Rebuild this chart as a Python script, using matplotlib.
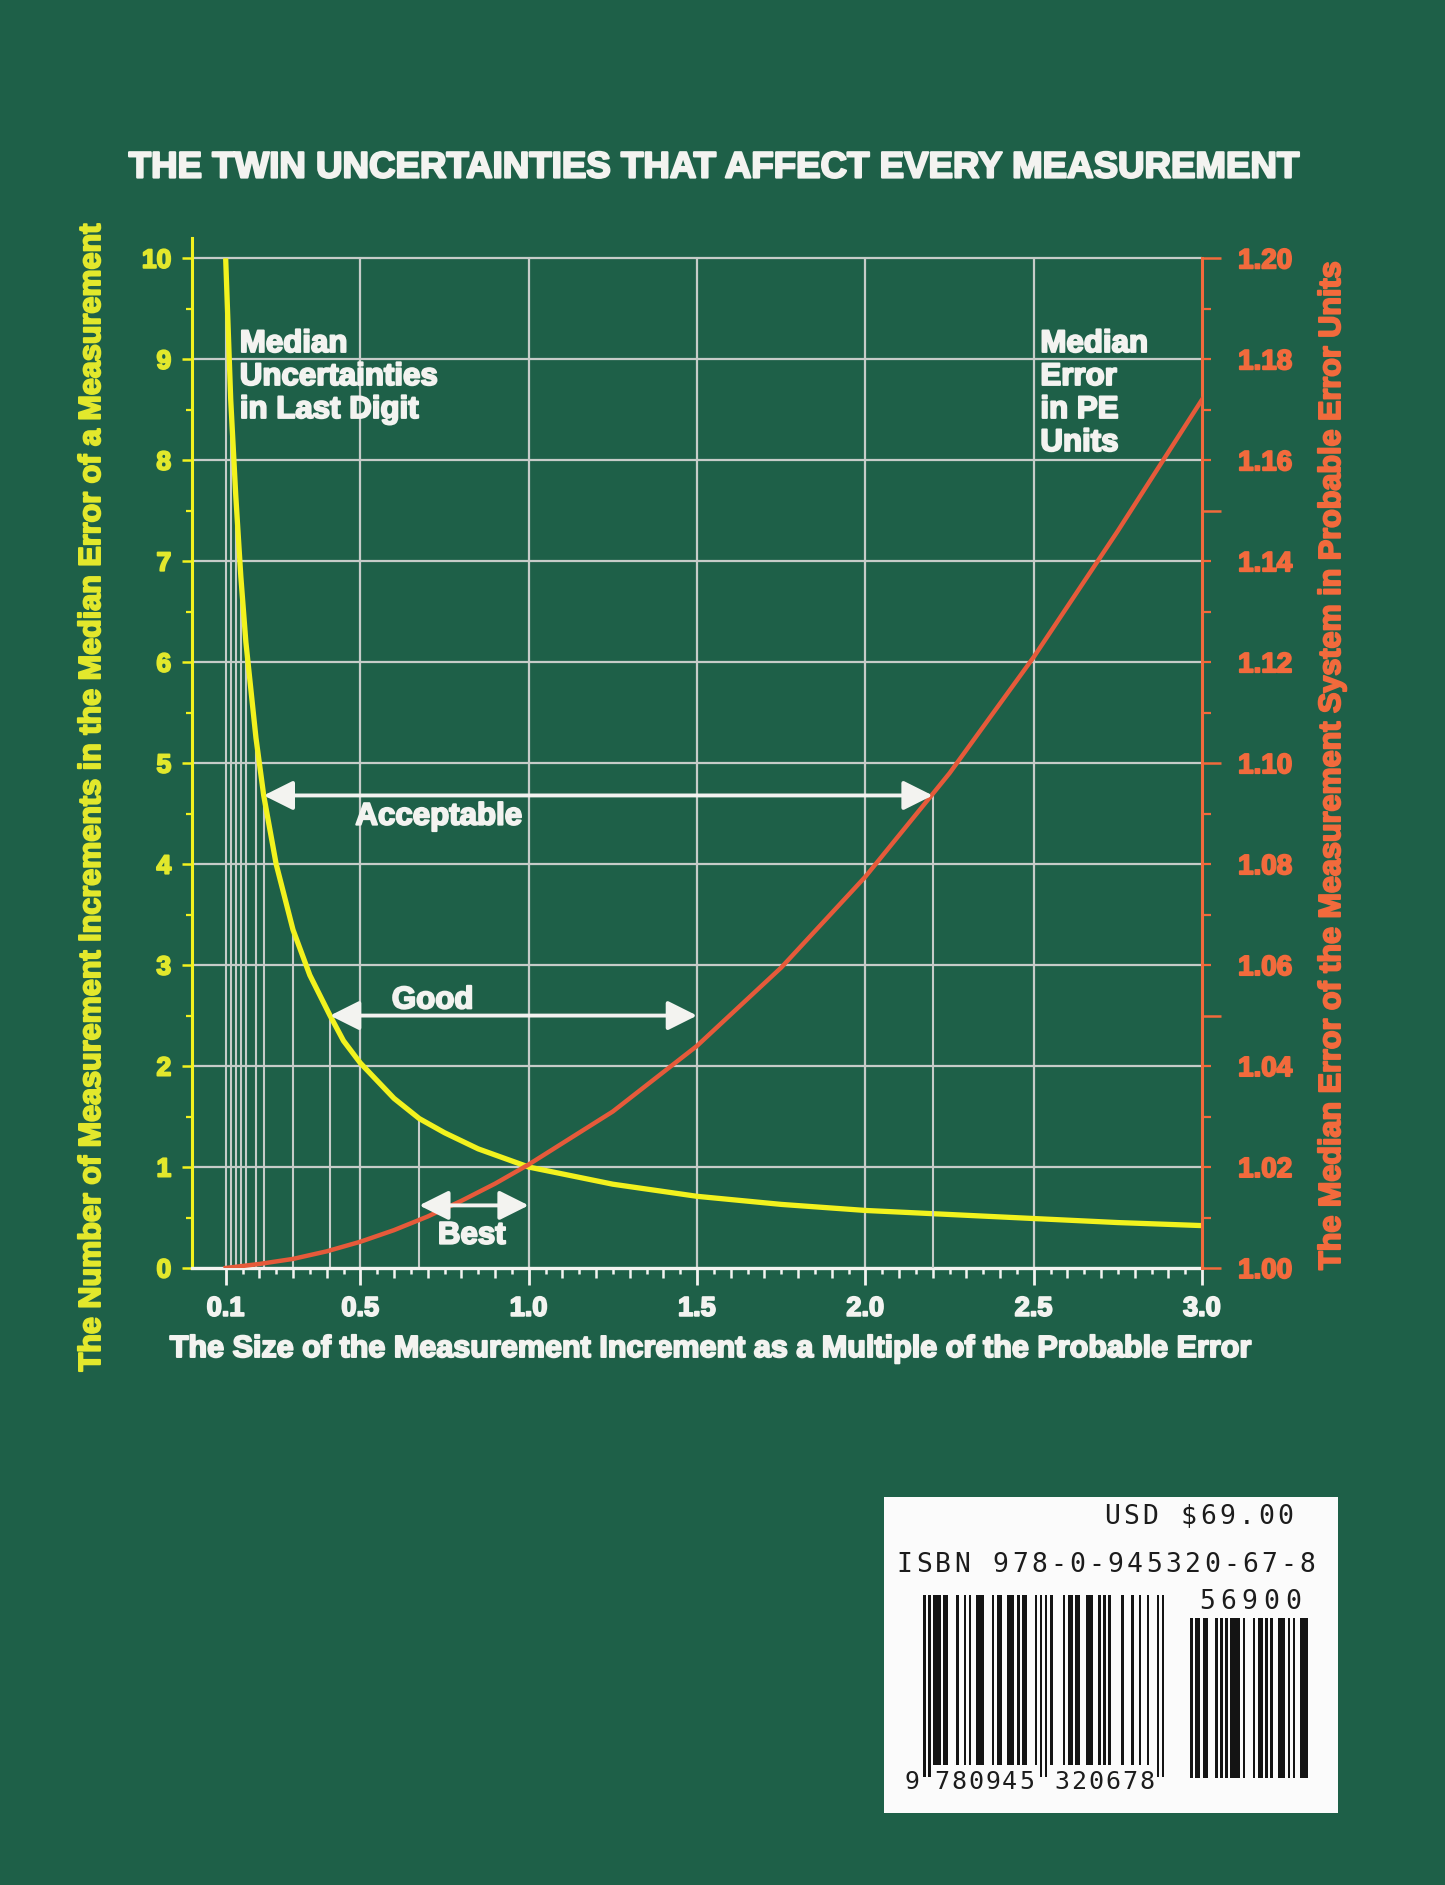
import numpy as np
import matplotlib
matplotlib.use("Agg")
import matplotlib.pyplot as plt
import matplotlib.patheffects as pe
from matplotlib.ticker import MultipleLocator, FixedLocator, FuncFormatter
from matplotlib.patches import Rectangle

# ---------------- data ----------------
yellow_x = [0.1, 0.115, 0.13, 0.145, 0.16, 0.19, 0.213, 0.25, 0.3, 0.35, 0.41,
            0.45, 0.5, 0.6, 0.675, 0.75, 0.85, 1.0, 1.25, 1.5, 1.75, 2.0,
            2.25, 2.5, 2.75, 3.0]
yellow_y = [10.0, 8.6, 7.65, 6.85, 6.2, 5.25, 4.68, 4.0, 3.35, 2.9, 2.5,
            2.25, 2.03, 1.68, 1.48, 1.34, 1.18, 1.0, 0.83, 0.71, 0.63, 0.57,
            0.53, 0.49, 0.45, 0.42]

red_x = [0.1, 0.2, 0.3, 0.4, 0.5, 0.6, 0.7, 0.8, 0.9, 1.0, 1.25, 1.5, 1.75,
         2.0, 2.25, 2.5, 2.75, 3.0]
red_y = [1.000, 1.0008, 1.0018, 1.0033, 1.0052, 1.0075, 1.0102, 1.0133, 1.0167,
         1.0205, 1.031, 1.044, 1.0595, 1.0775, 1.098, 1.121, 1.146, 1.172]

x_tick_vals = [0.1, 0.5, 1.0, 1.5, 2.0, 2.5, 3.0]
x_tick_labels = ["0.1", "0.5", "1.0", "1.5", "2.0", "2.5", "3.0"]
left_ticks = list(range(0, 11))
right_major = [1.00, 1.05, 1.10, 1.15, 1.20]

drop_x = [0.1, 0.115, 0.13, 0.145, 0.16, 0.19, 0.213, 0.3, 0.41, 0.675]
zone_names = ["Acceptable", "Good", "Best"]
zone_lo = [0.213, 0.41, 0.675]
zone_hi = [2.2, 1.5, 1.0]
zone_arrow_y = [4.68, 2.5, 0.62]
zone_label_xy = [(0.733, 4.47), (0.715, 2.65), (0.831, 0.32)]

title = "THE TWIN UNCERTAINTIES THAT AFFECT EVERY MEASUREMENT"
xlabel = "The Size of the Measurement Increment as a Multiple of the Probable Error"
ylabel_left = "The Number of Measurement Increments in the Median Error of a Measurement"
ylabel_right = "The Median Error of the Measurement System in Probable Error Units"

price_text = "USD $69.00"
isbn_text = "ISBN 978-0-945320-67-8"
isbn_digits = "9780945320678"
addon_digits = "56900"

# ---------------- style ----------------
BG = "#1e6048"
WHITE = "#f3f3f0"
GRID = "#c6ccc8"
YEL = "#f2f21e"
YEL_TXT = "#e2e82c"
RED = "#e65a3a"
ORANGE = "#f26a3c"

plt.rcParams["font.family"] = ["Liberation Sans", "DejaVu Sans"]
plt.rcParams["font.weight"] = "bold"


def heavy(color, w=1.4):
    return [pe.withStroke(linewidth=w, foreground=color)]


W, H = 1445, 1885
fig = plt.figure(figsize=(W / 100, H / 100), dpi=100, facecolor=BG)


def px_rect(x0, y0, x1, y1):
    return [x0 / W, 1 - y1 / H, (x1 - x0) / W, (y1 - y0) / H]


ax = fig.add_axes(px_rect(192, 228, 1202, 1268))
ax.set_facecolor("none")
ax.set_xlim(0, 3.0)
ax.set_ylim(0, 10.3)
ax2 = ax.twinx()
ax2.set_ylim(1.0, 1.0 + 0.02 * 10.3)

# spines
for s in ["top", "right"]:
    ax.spines[s].set_visible(False)
ax.spines["left"].set_color(YEL)
ax.spines["left"].set_linewidth(2.2)
ax.spines["left"].set_bounds(0, 10.2)
ax.spines["bottom"].set_color(WHITE)
ax.spines["bottom"].set_linewidth(2.4)
for s in ["top", "left", "bottom"]:
    ax2.spines[s].set_visible(False)
ax2.spines["right"].set_color(ORANGE)
ax2.spines["right"].set_linewidth(2.2)
ax2.spines["right"].set_bounds(1.0, 1.2)

# x ticks
ax.set_xticks(x_tick_vals, x_tick_labels)
ax.tick_params(axis="x", which="major", length=12, width=2, color=WHITE,
               labelcolor=WHITE, labelsize=19.5, pad=8)
tick_05 = np.round(np.arange(0.15, 3.0, 0.1), 2)
ax.xaxis.set_minor_locator(FixedLocator(tick_05))
ax.tick_params(axis="x", which="minor", length=4.5, width=1.8, color=WHITE)
sec = ax.secondary_xaxis("bottom")
tick_10 = [v for v in np.round(np.arange(0.2, 3.0, 0.1), 2) if round(v * 10) % 5 != 0]
sec.set_xticks(tick_10)
sec.set_xticklabels([])
sec.tick_params(axis="x", length=7.5, width=1.8, color=WHITE)
sec.spines["bottom"].set_visible(False)

# left ticks
ax.set_yticks(left_ticks)
ax.yaxis.set_minor_locator(MultipleLocator(0.5))
ax.tick_params(axis="y", which="major", length=7, width=1.8, color=YEL,
               labelcolor=YEL_TXT, labelsize=19, pad=8)
ax.tick_params(axis="y", which="minor", length=4.5, width=1.6, color=YEL)

# right ticks
fmt = FuncFormatter(lambda v, p: f"{v:.2f}" if round(v * 100) % 2 == 0 else "")
ax2.yaxis.set_major_locator(FixedLocator(right_major))
ax2.yaxis.set_minor_locator(MultipleLocator(0.01))
ax2.yaxis.set_major_formatter(fmt)
ax2.yaxis.set_minor_formatter(fmt)
ax2.tick_params(axis="y", which="major", length=14, width=1.8, color=ORANGE,
                labelcolor=ORANGE, labelsize=20, pad=12)
ax2.tick_params(axis="y", which="minor", length=6.5, width=1.6, color=ORANGE,
                labelcolor=ORANGE, labelsize=20, pad=19.5)

for lbl in ax.get_xticklabels():
    lbl.set_path_effects(heavy(WHITE))
for lbl in ax.get_yticklabels():
    lbl.set_path_effects(heavy(YEL_TXT))
for lbl in ax2.get_yticklabels() + ax2.get_yticklabels(minor=True):
    lbl.set_fontweight("bold")
    lbl.set_path_effects(heavy(ORANGE))

# grid
ax.hlines(range(1, 11), 0, 3.0, color=GRID, lw=1.6, zorder=1)
ax.vlines([0.5, 1.0, 1.5, 2.0, 2.5], 0, 10, color=GRID, lw=1.6, zorder=1)
ax.vlines(drop_x, 0, np.interp(drop_x, yellow_x, yellow_y), color=GRID, lw=1.5, zorder=1)
ax2.vlines([zone_hi[0]], 1.0, np.interp(zone_hi[0], red_x, red_y), color=GRID, lw=1.5, zorder=1)

# curves
ax.plot(yellow_x, yellow_y, color=YEL, lw=3.8, zorder=5, solid_joinstyle="round",
        solid_capstyle="butt")
ax2.plot(red_x, red_y, color=RED, lw=3.2, zorder=4, solid_joinstyle="round")

# zone arrows + labels (drawn on top axes, in left-axis coordinates)
for name, lo, hi, ay, (tx, ty) in zip(zone_names, zone_lo, zone_hi, zone_arrow_y, zone_label_xy):
    ax2.annotate("", xy=(hi, ay), xytext=(lo, ay), xycoords=ax.transData,
                 textcoords=ax.transData,
                 arrowprops=dict(arrowstyle="<|-|>,head_length=0.9,head_width=0.45",
                                 color=WHITE, lw=2.8, mutation_scale=20,
                                 shrinkA=0, shrinkB=0), zorder=6)
    ax2.text(tx, ty, name, transform=ax.transData, ha="center", va="center",
             color=WHITE, fontsize=22.5, fontweight="bold", zorder=7,
             path_effects=heavy(WHITE))

ax2.text(0.142, 9.30, "Median\nUncertainties\nin Last Digit", transform=ax.transData,
         ha="left", va="top", color=WHITE, fontsize=22.5, fontweight="bold",
         linespacing=1.13, zorder=7, path_effects=heavy(WHITE))
ax2.text(2.52, 9.30, "Median\nError\nin PE\nUnits", transform=ax.transData,
         ha="left", va="top", color=WHITE, fontsize=22.5, fontweight="bold",
         linespacing=1.13, zorder=7, path_effects=heavy(WHITE))

# titles / labels
fig.text(714 / W, 1 - 168 / H, title, ha="center", va="center", color=WHITE,
         fontsize=26.4, fontweight="bold", path_effects=heavy(WHITE, 1.6))
fig.text(710 / W, 1 - 1349 / H, xlabel, ha="center", va="center", color=WHITE,
         fontsize=22, fontweight="bold", path_effects=heavy(WHITE))
fig.text(92 / W, 1 - 798 / H, ylabel_left, ha="center", va="center", color=YEL_TXT,
         fontsize=22, fontweight="bold", rotation=90, path_effects=heavy(YEL_TXT))
fig.text(1332 / W, 1 - 766 / H, ylabel_right, ha="center", va="center", color=ORANGE,
         fontsize=22, fontweight="bold", rotation=90, path_effects=heavy(ORANGE))

# ---------------- barcode box ----------------
bx0, by0, bx1, by1 = 884, 1497, 1338, 1813
axb = fig.add_axes(px_rect(bx0, by0, bx1, by1))
axb.set_xlim(bx0, bx1)
axb.set_ylim(by1, by0)
axb.set_facecolor("#fbfbfb")
axb.set_xticks([])
axb.set_yticks([])
for s in axb.spines.values():
    s.set_visible(False)

L = {"0": "0001101", "1": "0011001", "2": "0010011", "3": "0111101", "4": "0100011",
     "5": "0110001", "6": "0101111", "7": "0111011", "8": "0110111", "9": "0001011"}
G = {"0": "0100111", "1": "0110011", "2": "0011011", "3": "0100001", "4": "0011101",
     "5": "0111001", "6": "0000101", "7": "0010001", "8": "0001001", "9": "0010111"}
R = {"0": "1110010", "1": "1100110", "2": "1101100", "3": "1000010", "4": "1011100",
     "5": "1001110", "6": "1010000", "7": "1000100", "8": "1001000", "9": "1110100"}
PAR13 = {"0": "LLLLLL", "1": "LLGLGG", "2": "LLGGLG", "3": "LLGGGL", "4": "LGLLGG",
         "5": "LGGLLG", "6": "LGGGLL", "7": "LGLGLL", "8": "LGLGGL", "9": "LGGLGL"}
PAR5 = {"0": "GGLLL", "1": "GLGLL", "2": "GLLGL", "3": "GLLLG", "4": "LGGLL",
        "5": "LLGGL", "6": "LLLGG", "7": "LGLGL", "8": "LGLLG", "9": "LLGLG"}


def ean13(code):
    bits = "101"
    for d, p in zip(code[1:7], PAR13[code[0]]):
        bits += (L if p == "L" else G)[d]
    bits += "01010"
    for d in code[7:]:
        bits += R[d]
    bits += "101"
    return bits


def ean5(code):
    ds = [int(c) for c in code]
    chk = str((3 * (ds[0] + ds[2] + ds[4]) + 9 * (ds[1] + ds[3])) % 10)
    bits = "01011"
    for i, (d, p) in enumerate(zip(code, PAR5[chk])):
        bits += (L if p == "L" else G)[d]
        if i < 4:
            bits += "01"
    return bits


def draw_bits(bits, x0, mw, top, bot, guard_bot=None, guards=()):
    i = 0
    n = len(bits)
    while i < n:
        if bits[i] == "1":
            j = i
            while j < n and bits[j] == "1":
                j += 1
            b = bot
            if guard_bot is not None and any(g0 <= i < g1 for g0, g1 in guards):
                b = guard_bot
            axb.add_patch(Rectangle((x0 + i * mw, top), (j - i) * mw, b - top,
                                    facecolor="#141414", edgecolor="none"))
            i = j
        else:
            i += 1


mw = 2.54
draw_bits(ean13(isbn_digits), 923, mw, 1595, 1765, guard_bot=1777,
          guards=[(0, 3), (45, 50), (92, 95)])
draw_bits(ean5(addon_digits), 1187.5, 2.5, 1618, 1778)


def spaced(text, x_start, pitch, y, size):
    for i, ch in enumerate(text):
        if ch != " ":
            axb.text(x_start + (i + 0.5) * pitch, y, ch, ha="center", va="center",
                     fontsize=size, family="DejaVu Sans Mono", fontweight="normal",
                     color="#1c1c1c")


spaced(price_text, 1102, 19.3, 1517, 19)
spaced(isbn_text, 895, 19.2, 1565, 19)
spaced(addon_digits, 1196, 21.5, 1602, 19)
spaced(isbn_digits[0], 903, 17, 1782, 18)
spaced(isbn_digits[1:7], 933, 17, 1782, 18)
spaced(isbn_digits[7:], 1053, 17, 1782, 18)

fig.savefig("out.png", dpi=100, facecolor=BG)
